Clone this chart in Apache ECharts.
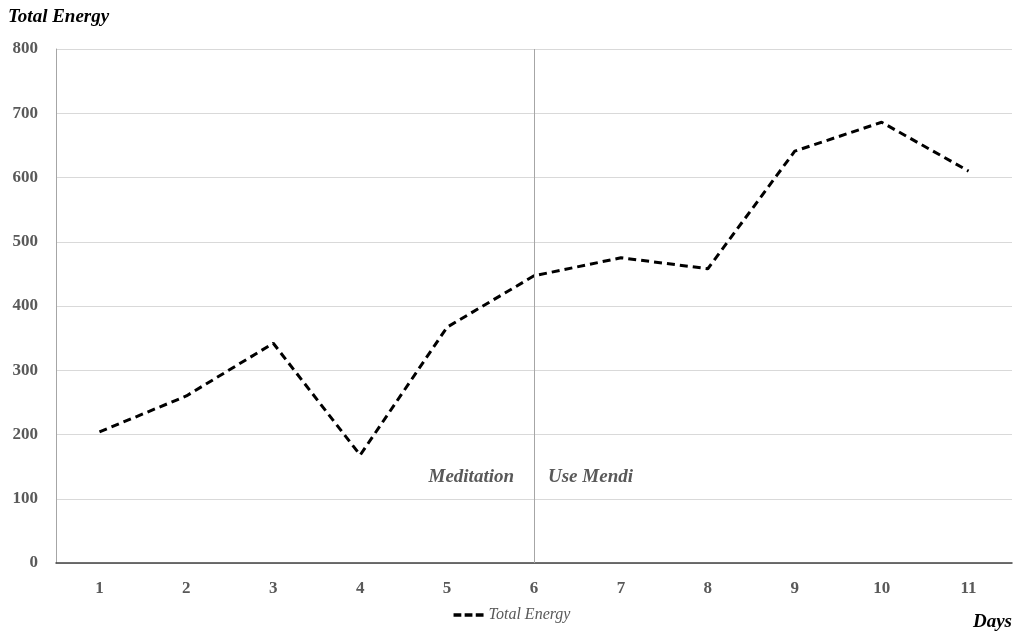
<!DOCTYPE html>
<html>
<head>
<meta charset="utf-8">
<script src="https://cdn.jsdelivr.net/npm/echarts@6/dist/echarts.min.js"></script>
<style>html,body{margin:0;padding:0;background:#fff;}#c{width:1024px;height:638px;}</style>
</head>
<body>
<div id="c"></div>
<script>
var days = ['1','2','3','4','5','6','7','8','9','10','11'];
var totalEnergy = [204, 260, 342, 168, 367, 447, 475, 458, 641, 686, 610];
var yTicks = {min: 0, max: 800, interval: 100};
var dividerDay = '6';
var phaseLabels = ['Meditation', 'Use Mendi'];

var FONT = '"Liberation Serif", "DejaVu Serif", serif';
var chart = echarts.init(document.getElementById('c'));
chart.setOption({
  backgroundColor: '#fff',
  animation: false,
  grid: {left: 56, right: 12, top: 49, bottom: 75, containLabel: false},
  legend: {
    data: [{name: 'Total Energy', icon: 'path://M0,0h7v3h-7z M10,0h7v3h-7z M20,0h7v3h-7z'}],
    bottom: 10,
    left: 'center',
    itemWidth: 30,
    itemHeight: 4,
    itemGap: 6,
    textStyle: {fontFamily: FONT, fontStyle: 'italic', fontSize: 16, color: '#595959'}
  },
  xAxis: {
    type: 'category',
    data: days,
    boundaryGap: true,
    name: 'Days',
    nameLocation: 'end',
    nameGap: 0,
    nameTextStyle: {fontFamily: FONT, fontStyle: 'italic', fontWeight: 'bold', fontSize: 19, color: '#000',
      align: 'right', verticalAlign: 'top', padding: [50, 0, 0, 0]},
    axisLine: {lineStyle: {color: '#404040', width: 1.5}},
    axisTick: {show: false},
    axisLabel: {fontFamily: FONT, fontWeight: 'bold', fontSize: 17, color: '#595959', margin: 17},
    splitLine: {show: false}
  },
  yAxis: {
    type: 'value',
    min: yTicks.min, max: yTicks.max, interval: yTicks.interval,
    name: 'Total Energy',
    nameLocation: 'end',
    nameGap: 22,
    nameTextStyle: {fontFamily: FONT, fontStyle: 'italic', fontWeight: 'bold', fontSize: 19, color: '#000',
      align: 'left', padding: [0, 0, 0, -48]},
    axisLine: {show: true, lineStyle: {color: '#a6a6a6', width: 1}},
    axisTick: {show: false},
    axisLabel: {fontFamily: FONT, fontWeight: 'bold', fontSize: 17, color: '#595959', margin: 18},
    splitLine: {lineStyle: {color: '#d9d9d9', width: 1}}
  },
  series: [{
    name: 'Total Energy',
    type: 'line',
    data: totalEnergy,
    symbol: 'none',
    lineStyle: {color: '#000', width: 3, type: [8, 5]},
    itemStyle: {color: '#000'},
    markLine: {
      silent: true,
      symbol: 'none',
      lineStyle: {color: '#a6a6a6', width: 1, type: 'solid'},
      label: {show: false},
      data: [{xAxis: dividerDay}]
    }
  }]
});

function placeLabels() {
  var p = chart.convertToPixel({xAxisIndex: 0, yAxisIndex: 0}, [dividerDay, 0]);
  var y100 = chart.convertToPixel({yAxisIndex: 0}, 100);
  chart.setOption({
    graphic: [
      {type: 'text', x: p[0] - 20, y: y100 - 22,
        style: {text: phaseLabels[0], font: 'italic bold 19px ' + FONT, fill: '#595959', textAlign: 'right', textVerticalAlign: 'middle'}},
      {type: 'text', x: p[0] + 14, y: y100 - 22,
        style: {text: phaseLabels[1], font: 'italic bold 19px ' + FONT, fill: '#595959', textAlign: 'left', textVerticalAlign: 'middle'}}
    ]
  });
}
placeLabels();
</script>
</body>
</html>
